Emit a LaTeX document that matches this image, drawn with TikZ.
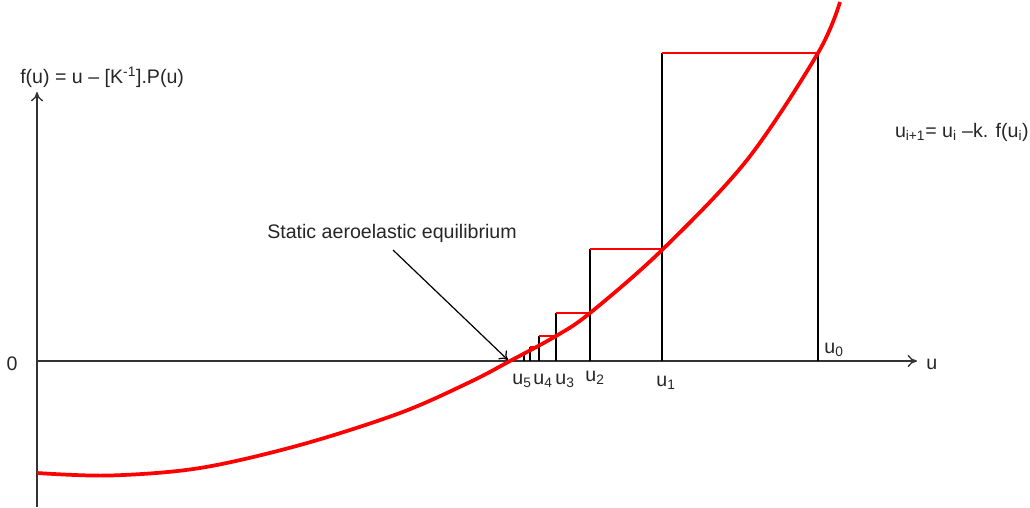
\documentclass[tikz,border=0pt]{standalone}
\usepackage{fontspec}
\setmainfont{Liberation Sans}
\usetikzlibrary{arrows.meta}
\begin{document}
\begin{tikzpicture}[x=0.75pt,y=-0.75pt,
  lbl/.style={inner sep=0pt,font=\fontsize{14.7}{17}\selectfont,text=black!85},
  axis/.style={line width=1.3pt,black!80,-{To[length=7pt,width=9pt,line width=1pt]}},
  riser/.style={line width=0.9pt,black},
  tread/.style={line width=1pt,red},
  curve/.style={line width=2.8pt,red}]
\useasboundingbox (0,0) rectangle (1030,507);
% axes
\coordinate (O) at (37,361);
\coordinate (ybot) at (37,507);
\coordinate (ytop) at (37,92);
\coordinate (xend) at (917,361);
\draw[axis] (O) -- (xend);
\draw[axis] (ybot) -- (ytop);
\node[lbl,anchor=west] (flab) at (20,77) {f(u) = u – [K\textsuperscript{-1}].P(u)};
\node[lbl] (zero) at (12,364) {0};
\node[lbl,anchor=west] (ulab) at (926,364) {u};
\node[lbl,anchor=east] (iter) at (1029,132) {u\textsubscript{i+1}= u\textsubscript{i} –k. f(u\textsubscript{i})};
% stairs: axis points and curve points
\coordinate (a0) at (818,361); \coordinate (c0) at (818,53);
\coordinate (a1) at (662,361); \coordinate (c1) at (662,249);
\coordinate (a2) at (590,361); \coordinate (c2) at (590,313);
\coordinate (a3) at (556,361); \coordinate (c3) at (556,336);
\coordinate (a4) at (539,361); \coordinate (c4) at (539,347);
\coordinate (a5) at (530,361); \coordinate (c5) at (530,352);
\coordinate (a6) at (524,361); \coordinate (c6) at (524,355);
\draw[riser] (a0) -- (c0);
\draw[riser] (a1) -- (c1 |- c0);
\draw[riser] (a2) -- (c2 |- c1);
\draw[riser] (a3) -- (c3 |- c2);
\draw[riser] (a4) -- (c4 |- c3);
\draw[riser] (a5) -- (c5 |- c4);
\draw[riser] (a6) -- (c6 |- c5);
\draw[tread] (c0) -- (c1 |- c0);
\draw[tread] (c1) -- (c2 |- c1);
\draw[tread] (c2) -- (c3 |- c2);
\draw[tread] (c3) -- (c4 |- c3);
\draw[tread] (c4) -- (c5 |- c4);
% curve
\draw[curve] plot[smooth,tension=0.55] coordinates {(37,473) (110,475.5) (200,468) (300,445) (400,413) (470,382) (510,361) (556,336) (590,313) (662,250) (747,160) (818,53) (840,2)};
% labels
\node[lbl] (u5) at (522,381) {u\textsubscript{5}};
\node[lbl] (u4) at (543,381) {u\textsubscript{4}};
\node[lbl] (u3) at (565,381) {u\textsubscript{3}};
\node[lbl] (u2) at (595,378) {u\textsubscript{2}};
\node[lbl] (u1) at (666,383) {u\textsubscript{1}};
\node[lbl] (u0) at (834,350) {u\textsubscript{0}};
% annotation
\node[lbl] (stat) at (392,233) {Static aeroelastic equilibrium};
\coordinate (eq) at (508,360);
\draw[line width=0.9pt,-{To[length=6pt,width=9pt]}] (393,250) -- (eq);
\end{tikzpicture}
\end{document}
